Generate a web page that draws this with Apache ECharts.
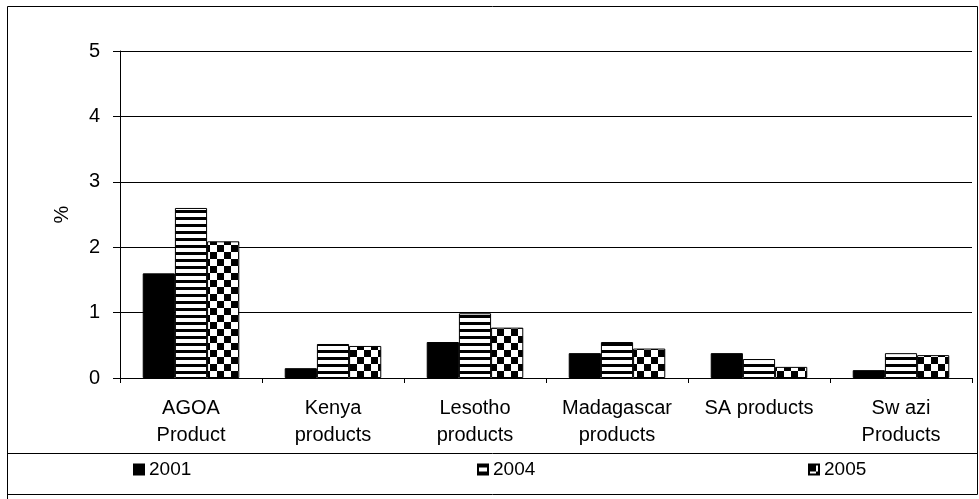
<!DOCTYPE html>
<html>
<head>
<meta charset="utf-8">
<script src="https://cdn.jsdelivr.net/npm/echarts@6/dist/echarts.min.js"></script>
<style>
  html, body { margin: 0; padding: 0; background: #fff; }
  #chart { width: 979px; height: 499px; }
</style>
</head>
<body>
<div id="chart"></div>
<script>
// Product categories along the x axis
const categories = ['AGOA\nProduct', 'Kenya\nproducts', 'Lesotho\nproducts', 'Madagascar\nproducts', 'SA products', 'Sw azi\nProducts'];

// Shares (%) per year
const values2001 = [1.6, 0.15, 0.55, 0.38, 0.38, 0.12];
const values2004 = [2.6, 0.52, 0.99, 0.55, 0.29, 0.38];
const values2005 = [2.09, 0.49, 0.77, 0.45, 0.17, 0.35];

const yTicks = [0, 1, 2, 3, 4, 5];
const seriesNames = ['2001', '2004', '2005'];

const FONT = '"Liberation Sans", Arial, sans-serif';

// Fill patterns: horizontal stripes and a checkerboard
function stripePattern() {
  const c = document.createElement('canvas');
  c.width = 7; c.height = 7;
  const g = c.getContext('2d');
  g.fillStyle = '#fff'; g.fillRect(0, 0, 7, 7);
  g.fillStyle = '#000'; g.fillRect(0, 0, 7, 3);
  return c;
}
function checkerPattern() {
  const c = document.createElement('canvas');
  c.width = 14; c.height = 14;
  const g = c.getContext('2d');
  g.fillStyle = '#fff'; g.fillRect(0, 0, 14, 14);
  g.fillStyle = '#000';
  g.fillRect(0, 0, 7, 7);
  g.fillRect(7, 7, 7, 7);
  return c;
}

const fills = [
  '#000',
  { image: stripePattern(), repeat: 'repeat' },
  { image: checkerPattern(), repeat: 'repeat' }
];
const dataSets = [values2001, values2004, values2005];

const chart = echarts.init(document.getElementById('chart'), null, { renderer: 'canvas' });

const legendLefts = [133, 477, 808];

const option = {
  animation: false,
  backgroundColor: '#fff',
  textStyle: { fontFamily: FONT },
  grid: { left: 120, right: 7, top: 51, bottom: 121, containLabel: false },
  legend: seriesNames.map((n, i) => ({
    data: [n],
    left: legendLefts[i],
    top: 460,
    padding: 0,
    itemWidth: 10,
    itemHeight: 10,
    itemGap: 4,
    icon: 'rect',
    textStyle: { fontFamily: FONT, fontSize: 19, color: '#000' }
  })),
  xAxis: {
    type: 'category',
    data: categories,
    axisLine: { show: true, lineStyle: { color: '#000', width: 1 } },
    axisTick: { show: true, length: 5, alignWithLabel: false, lineStyle: { color: '#000' } },
    axisLabel: {
      interval: 0,
      margin: 17,
      fontFamily: FONT,
      fontSize: 20,
      lineHeight: 27,
      color: '#000',
      align: 'center'
    },
    splitLine: { show: false }
  },
  yAxis: {
    type: 'value',
    min: yTicks[0],
    max: yTicks[yTicks.length - 1],
    interval: 1,
    name: '%',
    nameLocation: 'middle',
    nameGap: 48,
    nameTextStyle: { fontFamily: FONT, fontSize: 20, color: '#000' },
    axisLine: { show: true, lineStyle: { color: '#000', width: 1 } },
    axisTick: { show: true, length: 7, lineStyle: { color: '#000' } },
    axisLabel: { margin: 20, fontFamily: FONT, fontSize: 20, color: '#000' },
    splitLine: { show: true, lineStyle: { color: '#000', width: 1 } }
  },
  series: seriesNames.map((n, i) => ({
    name: n,
    type: 'bar',
    data: dataSets[i],
    barGap: '0%',
    barCategoryGap: '32%',
    itemStyle: { color: fills[i], borderColor: '#000', borderWidth: 1 }
  })),
  graphic: [
    {
      type: 'rect',
      silent: true,
      shape: { x: 7.5, y: 6.5, width: 970, height: 488 },
      style: { fill: 'none', stroke: '#000', lineWidth: 1 }
    },
    {
      type: 'line',
      silent: true,
      shape: { x1: 7, y1: 453.5, x2: 978, y2: 453.5 },
      style: { stroke: '#000', lineWidth: 1 }
    },
    {
      type: 'line',
      silent: true,
      shape: { x1: 7.5, y1: 494, x2: 7.5, y2: 499 },
      style: { stroke: '#000', lineWidth: 1 }
    }
  ]
};

chart.setOption(option);
</script>
</body>
</html>
